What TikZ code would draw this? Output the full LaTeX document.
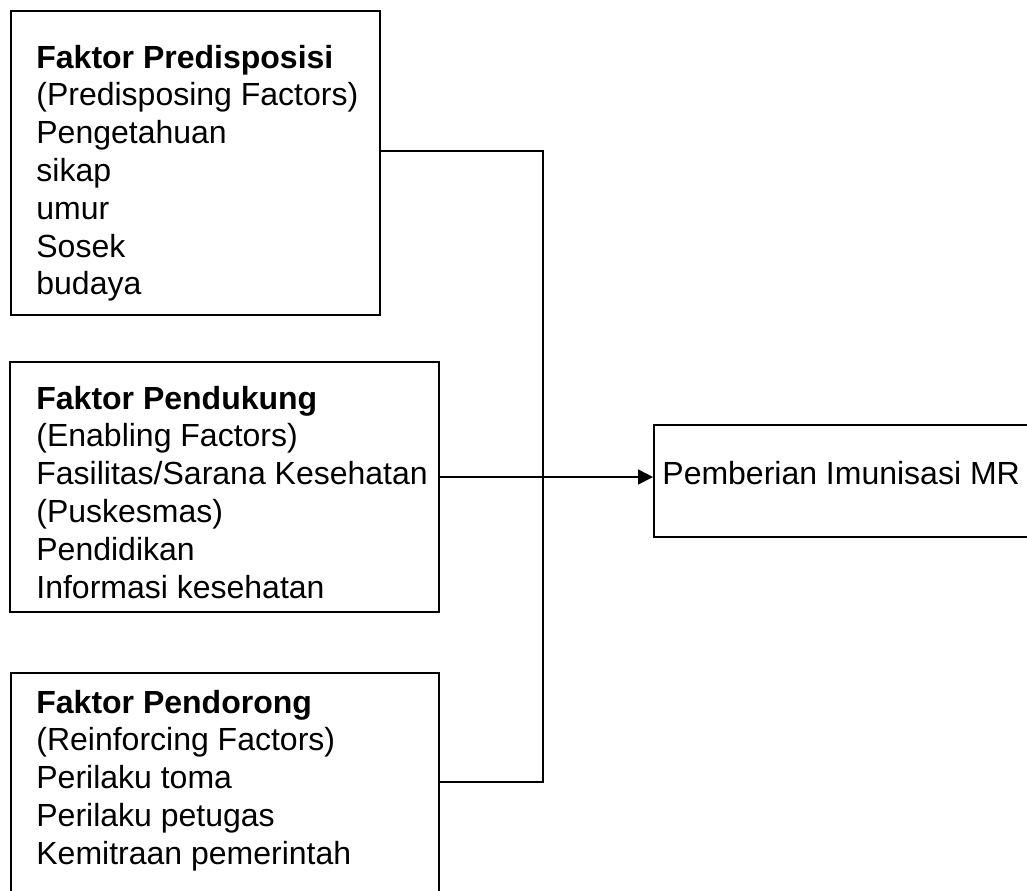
\documentclass[tikz,border=0pt]{standalone}
\usepackage{fontspec}
\setmainfont{Liberation Sans}
\usetikzlibrary{arrows.meta}

\tikzset{
  factorbox/.style={draw, line width=0.85pt, anchor=north west, inner sep=0pt},
  factortext/.style={anchor=base west, align=left, inner sep=0pt,
    font=\fontsize{16}{18.9}\selectfont},
  link/.style={line width=0.85pt},
}

\begin{document}
\begin{tikzpicture}[x=0.5pt, y=-0.5pt]
\useasboundingbox (0,0) rectangle (1027,890);

\node [factorbox, minimum width=184.5pt, minimum height=152pt] (pre) at (10,10) {};
\node [factorbox, minimum width=214.5pt, minimum height=125pt] (sup) at (9,361) {};
\node [factorbox, minimum width=214pt, minimum height=130pt] (rei) at (10,672) {};
\node [factorbox, minimum width=260pt, minimum height=56pt] (mr) at (653,424) {};

\node [factortext] (pretext) at (36,294.8) {\textbf{Faktor Predisposisi}\\(Predisposing Factors)\\Pengetahuan\\sikap\\umur\\Sosek\\budaya};
\node [factortext] (suptext) at (36,598) {\textbf{Faktor Pendukung}\\(Enabling Factors)\\Fasilitas/Sarana Kesehatan\\(Puskesmas)\\Pendidikan\\Informasi kesehatan};
\node [factortext] (reitext) at (36,864.2) {\textbf{Faktor Pendorong}\\(Reinforcing Factors)\\Perilaku toma\\Perilaku petugas\\Kemitraan pemerintah};
\node [factortext] (mrtext) at (662,484) {Pemberian Imunisasi MR};

\coordinate (bustop) at (543,151);
\coordinate (busbot) at (543,782);
\draw [link] (pre.east |- bustop) -- (bustop) -- (busbot) -- (rei.east |- busbot);
\coordinate (fas) at (0,477);
\draw [link, -{Triangle[length=7.5pt, width=7.5pt]}] (sup.east |- fas) -- (mr.west |- fas);
\end{tikzpicture}
\end{document}
